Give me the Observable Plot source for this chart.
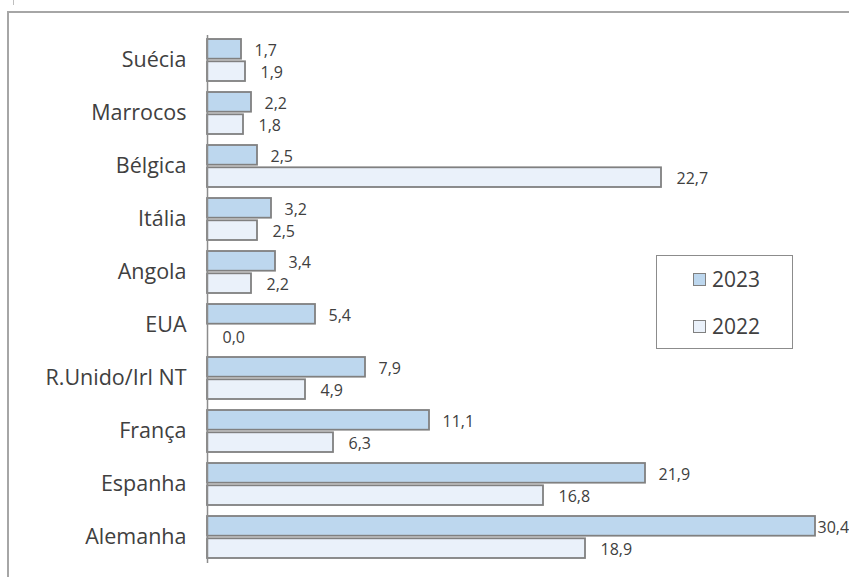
<!DOCTYPE html>
<html>
<head>
<meta charset="utf-8">
<script src="https://cdn.jsdelivr.net/npm/d3@7"></script>
<script src="https://cdn.jsdelivr.net/npm/@observablehq/plot@0.6"></script>
<style>
  html, body { margin: 0; padding: 0; background: #fff; }
  #wrap { position: relative; width: 849px; height: 577px; overflow: hidden; font-family: "Open Sans", sans-serif; }
  #frameTop { position: absolute; left: 7px; top: 11px; width: 842px; height: 2px; background: #a6a6a6; }
  #frameLeft { position: absolute; left: 7px; top: 11px; width: 2px; height: 566px; background: #a6a6a6; }
  #tick { position: absolute; left: 13px; top: 0; width: 1px; height: 5px; background: #bfbfbf; }
  #chart { position: absolute; left: 0; top: 0; }
  #legend { position: absolute; left: 656px; top: 255px; width: 135px; height: 92px; border: 1.5px solid #8c8c8c; background: #fff; }
  .li { position: absolute; left: 36px; display: flex; align-items: center; font-size: 21px; color: #404040; }
  .sw { width: 11px; height: 11px; border: 1.5px solid #808080; margin-right: 6px; }
</style>
</head>
<body>
<div id="wrap">
  <div id="frameTop"></div>
  <div id="frameLeft"></div>
  <div id="tick"></div>
  <div id="chart"></div>
  <div id="legend"></div>
</div>
<script>
const countries = ["Suécia","Marrocos","Bélgica","Itália","Angola","EUA","R.Unido/Irl NT","França","Espanha","Alemanha"];
const values2023 = [1.7, 2.2, 2.5, 3.2, 3.4, 5.4, 7.9, 11.1, 21.9, 30.4];
const values2022 = [1.9, 1.8, 22.7, 2.5, 2.2, 0.0, 4.9, 6.3, 16.8, 18.9];
const series = ["2023", "2022"];
const colors = {"2023": "#bdd7ee", "2022": "#eaf1fa"};

const d23 = countries.map((c, i) => ({country: c, value: values2023[i]}));
const d22 = countries.map((c, i) => ({country: c, value: values2022[i]}));
const fmt = d => d3.format(".1f")(d.value).replace(".", ",");
const maxV = d3.max(values2023);

const plot = Plot.plot({
  width: 849,
  height: 577,
  marginLeft: 207,
  marginRight: 34,
  marginTop: 32,
  marginBottom: 12,
  style: {fontFamily: "Open Sans, sans-serif", background: "transparent"},
  x: {domain: [0, 30.4], axis: null},
  y: {domain: countries, paddingInner: 0.2, paddingOuter: 0.1, axis: null},
  marks: [
    Plot.barX(d23, {x: "value", y: "country", fill: colors["2023"], stroke: "#808080", strokeWidth: 1.8, insetBottom: 22.3}),
    Plot.barX(d22, {x: "value", y: "country", fill: colors["2022"], stroke: "#808080", strokeWidth: 1.8, insetTop: 22.3}),
    Plot.ruleX([0], {stroke: "#8c8c8c", strokeWidth: 1.5, insetTop: 3, insetBottom: 2}),
    Plot.text(d23.filter(d => d.value < maxV), {x: "value", y: "country", text: fmt, textAnchor: "start", dx: 13, dy: -10, fontSize: 16, fill: "#404040"}),
    Plot.text(d23.filter(d => d.value >= maxV), {x: "value", y: "country", text: fmt, textAnchor: "start", dx: 2, dy: -10, fontSize: 16, fill: "#404040"}),
    Plot.text(d22, {x: "value", y: "country", text: fmt, textAnchor: "start", dx: 15, dy: 12, fontSize: 16, fill: "#404040"}),
    Plot.text(countries, {y: d => d, frameAnchor: "left", textAnchor: "end", dx: -21, fontSize: 21.5, fill: "#404040"})
  ]
});
document.getElementById("chart").appendChild(plot);

const legend = document.getElementById("legend");
series.forEach((s, i) => {
  const item = document.createElement("div");
  item.className = "li";
  item.style.top = (i === 0 ? 9 : 56) + "px";
  const sw = document.createElement("div");
  sw.className = "sw";
  sw.style.background = colors[s];
  const t = document.createElement("span");
  t.textContent = s;
  item.appendChild(sw);
  item.appendChild(t);
  legend.appendChild(item);
});
</script>
</body>
</html>
